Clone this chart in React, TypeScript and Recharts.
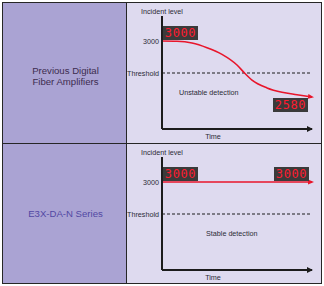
import React from 'react';
import { LineChart, Line, XAxis, YAxis, ReferenceLine } from 'recharts';

// ---- data ----
const TIME_PREV = [0, 10, 20, 30, 40, 50, 55, 60, 70, 80, 90, 100];
const LEVEL_PREV = [3000, 2998, 2985, 2950, 2900, 2820, 2760, 2707, 2648, 2615, 2597, 2580];
const TIME_NEW = [0, 100];
const LEVEL_NEW = [3000, 3000];
const THRESHOLD = 2760;
const Y_TICKS = [THRESHOLD, 3000];
const Y_TICK_LABELS = ['Threshold', '3000'];
const Y_DOMAIN: [number, number] = [2340, 3187.5];
const X_DOMAIN: [number, number] = [0, 100];
const ROW_LABELS = [['Previous Digital', 'Fiber Amplifiers'], ['E3X-DA-N Series']];
const DETECTION_LABELS = ['Unstable detection', 'Stable detection'];
const Y_TITLE = 'Incident level';
const X_TITLE = 'Time';

const FONT = '"Liberation Sans", Arial, Helvetica, sans-serif';
const TXT = '#2b2b36';
const AX = '#1c1c1c';
const RED = '#e8152b';

const prevData = TIME_PREV.map((t, i) => ({ t, v: LEVEL_PREV[i] }));
const newData = TIME_NEW.map((t, i) => ({ t, v: LEVEL_NEW[i] }));

function Panel({ data, id, endBelow, detection, detDx }: any) {
  const last = data.length - 1;
  const renderDot = (p: any) => {
    const { cx, cy, index, value } = p;
    if (index !== 0 && index !== last) return <g key={`d${index}`} />;
    const w = 35;
    const h = 14;
    let x: number, y: number;
    if (index === 0) {
      x = cx + 1;
      y = cy - 15;
    } else if (endBelow) {
      x = cx - 39;
      y = cy + 1;
    } else {
      x = cx - 38;
      y = cy - 15;
    }
    return (
      <g key={`d${index}`}>
        <rect x={x} y={y} width={w} height={h} fill="#3a3a3a" />
        <text
          x={x + w / 2}
          y={y + h - 2.6}
          textAnchor="middle"
          fill="#ff1b30"
          fontSize={12}
          fontFamily='"DejaVu Sans Mono", monospace'
          letterSpacing={0.6}
        >
          {String(Array.isArray(value) ? value[1] : value)}
        </text>
      </g>
    );
  };
  return (
    <LineChart width={194} height={140} data={data} margin={{ top: 13, right: 9, bottom: 0, left: 0 }}>
      <defs>
        <marker id={`${id}-ax`} markerWidth="7" markerHeight="6" refX="5" refY="3" orient="auto" markerUnits="userSpaceOnUse">
          <path d="M0,0 L6,3 L0,6 z" fill={AX} />
        </marker>
        <marker id={`${id}-red`} markerWidth="7" markerHeight="6" refX="4" refY="3" orient="auto" markerUnits="userSpaceOnUse">
          <path d="M0,0.5 L6,3 L0,5.5 z" fill={RED} />
        </marker>
      </defs>
      <XAxis
        dataKey="t"
        type="number"
        domain={X_DOMAIN}
        tick={false}
        tickLine={false}
        height={14}
        axisLine={{ stroke: AX, strokeWidth: 2, markerEnd: `url(#${id}-ax)` } as any}
        label={{
          content: (lp: any) => {
            const vb = lp.viewBox || { x: 35, y: 126 };
            return (
              <text x={vb.x + 51} y={vb.y + 9.8} textAnchor="middle" fontSize={7.2} fontFamily={FONT} fill={TXT}>
                {X_TITLE}
              </text>
            );
          },
        } as any}
      />
      <YAxis
        type="number"
        domain={Y_DOMAIN}
        ticks={Y_TICKS}
        interval={0}
        tickFormatter={(v: number) => Y_TICK_LABELS[Y_TICKS.indexOf(v)]}
        width={35}
        tickLine={false}
        tickSize={0}
        tickMargin={3}
        axisLine={{ stroke: AX, strokeWidth: 2 }}
        tick={{ fontSize: 7.2, fill: TXT, fontFamily: FONT }}
        label={{
          content: (lp: any) => {
            const vb = lp.viewBox || { x: 0, y: 13, width: 35 };
            return (
              <text x={vb.x + vb.width} y={vb.y - 2.5} textAnchor="middle" fontSize={7.2} fontFamily={FONT} fill={TXT}>
                {Y_TITLE}
              </text>
            );
          },
        } as any}
      />
      <ReferenceLine
        y={THRESHOLD}
        stroke={AX}
        strokeWidth={1}
        strokeDasharray="3 2"
        label={{
          content: (lp: any) => {
            const vb = lp.viewBox || { x: 35, y: 70 };
            return (
              <text x={vb.x + detDx} y={vb.y + 22.2} textAnchor="start" fontSize={7.2} fontFamily={FONT} fill={TXT}>
                {detection}
              </text>
            );
          },
        } as any}
      />
      <Line
        dataKey="v"
        type="monotone"
        stroke={RED}
        strokeWidth={1.6}
        dot={renderDot}
        activeDot={false}
        markerEnd={`url(#${id}-red)`}
        isAnimationActive={false}
      />
    </LineChart>
  );
}

export default function App() {
  const purple = '#aaa3d3';
  const lav = '#deDAef';
  return (
    <div style={{ position: 'absolute', left: 0, top: 0, width: 324, height: 286, background: '#ffffff', fontFamily: FONT }}>
      {/* cells */}
      <div style={{ position: 'absolute', left: 3, top: 3, width: 123, height: 280, background: purple }} />
      <div style={{ position: 'absolute', left: 127, top: 3, width: 194, height: 280, background: lav }} />
      {/* grid lines */}
      <div style={{ position: 'absolute', left: 2, top: 2, width: 320, height: 282, border: '1px solid #262626', boxSizing: 'border-box' }} />
      <div style={{ position: 'absolute', left: 126, top: 2, width: 1, height: 282, background: '#262626' }} />
      <div style={{ position: 'absolute', left: 2, top: 143, width: 320, height: 1, background: '#262626' }} />
      {/* row labels */}
      <div style={{ position: 'absolute', left: 3, top: 66.4, width: 125, textAlign: 'center', fontSize: 9.6, lineHeight: '10.6px', color: '#3d2c4f' }}>
        {ROW_LABELS[0].map((s) => (
          <div key={s}>{s}</div>
        ))}
      </div>
      <div style={{ position: 'absolute', left: 3, top: 208.7, width: 125, textAlign: 'center', fontSize: 9.6, lineHeight: '10.6px', color: '#5248a3' }}>
        {ROW_LABELS[1].map((s) => (
          <div key={s}>{s}</div>
        ))}
      </div>
      {/* charts */}
      <div style={{ position: 'absolute', left: 127, top: 3 }}>
        <Panel data={prevData} id="p1" endBelow={true} detection={DETECTION_LABELS[0]} detDx={17} />
      </div>
      <div style={{ position: 'absolute', left: 127, top: 144 }}>
        <Panel data={newData} id="p2" endBelow={false} detection={DETECTION_LABELS[1]} detDx={44} />
      </div>
    </div>
  );
}
